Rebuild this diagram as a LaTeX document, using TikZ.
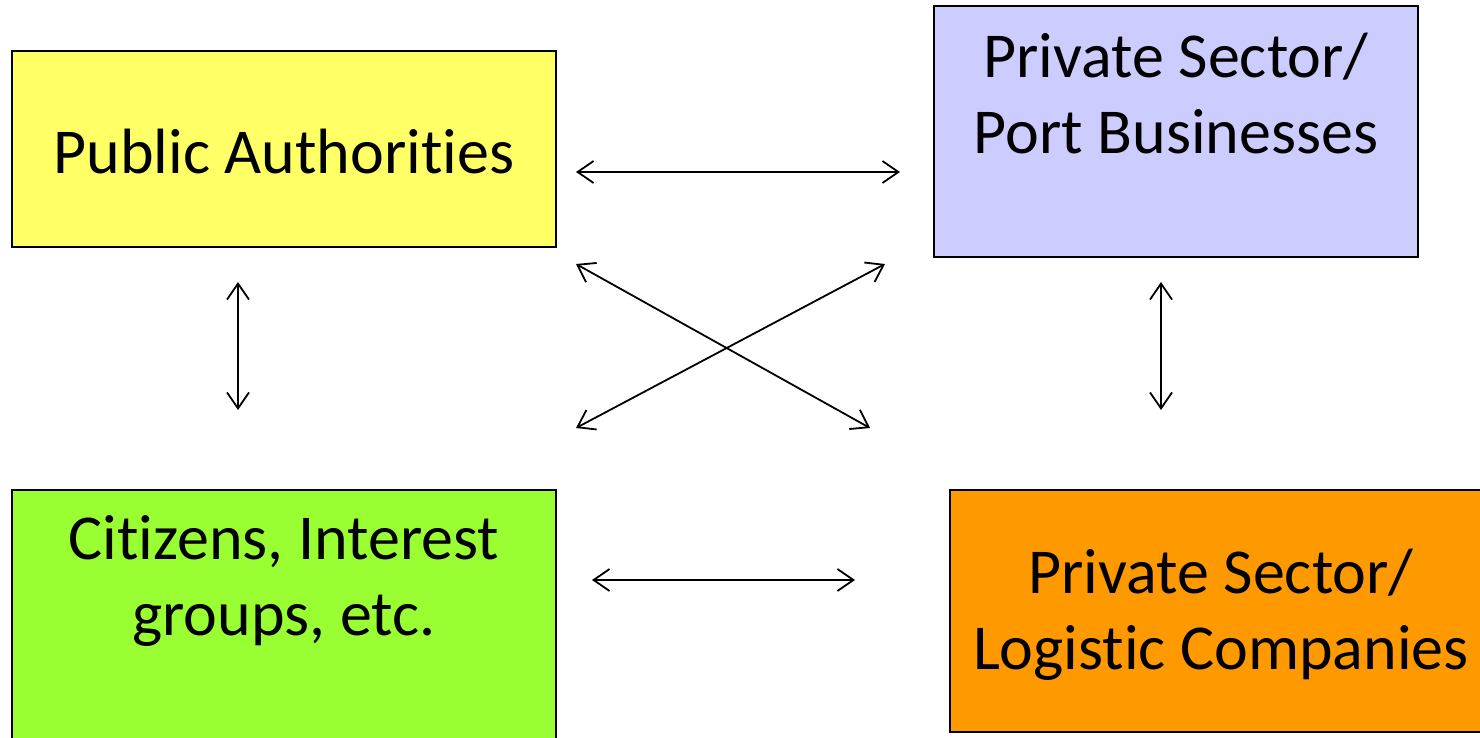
\documentclass[tikz,border=0pt]{standalone}
\usepackage{fontspec}
\setmainfont[Ligatures={NoCommon}]{Carlito}
\usetikzlibrary{arrows.meta}
\definecolor{cyellow}{HTML}{FFFF66}
\definecolor{cblue}{HTML}{CCCCFF}
\definecolor{cgreen}{HTML}{99FF33}
\definecolor{corange}{HTML}{FF9900}
\tikzset{
  box/.style={draw=black, line width=1.6pt},
  lbl/.style={align=center, inner sep=0pt, font=\fontsize{64}{76}\selectfont},
  link/.style={line width=1.8pt, {Straight Barb[length=16pt,width=22pt,line width=1.8pt]}-{Straight Barb[length=16pt,width=22pt,line width=1.8pt]}}
}
\begin{document}
\begin{tikzpicture}[x=1pt,y=-1pt]
\useasboundingbox (0,0) rectangle (1480,738);
\clip (0,0) rectangle (1480,738);
\fill[white] (0,0) rectangle (1480,738);
% boxes
\draw[box, fill=cyellow] (12,51) rectangle (556,247) coordinate (pa);
\draw[box, fill=cblue] (934,6) rectangle (1418,257) coordinate (pb);
\draw[box, fill=cgreen] (12,490) rectangle (556,760) coordinate (cg);
\draw[box, fill=corange] (950,490) rectangle (1500,732) coordinate (lc);
% texts
\node[lbl] (tpa) at (284,152) {Public Authorities};
\node[lbl] (tpb) at (1176,94) {Private Sector/\\Port Businesses};
\node[lbl] (tcg) at (284,581) {Citizens, Interest\\groups, etc.};
\node[lbl] (tlc) at (1221,615) {Private Sector/\\Logistic Companies};
% connector ends
\coordinate (a1) at (576,172); \coordinate (a2) at (900,172);
\coordinate (b1) at (238,282); \coordinate (b2) at (238,410);
\coordinate (c1) at (1161,282); \coordinate (c2) at (1161,410);
\coordinate (d1) at (576,264); \coordinate (d2) at (870,428);
\coordinate (e1) at (576,428); \coordinate (e2) at (885,264);
\coordinate (f1) at (592,580); \coordinate (f2) at (855,580);
\draw[link] (a1) -- (a2);
\draw[link] (b1) -- (b2);
\draw[link] (c1) -- (c2);
\draw[link] (d1) -- (d2);
\draw[link] (e1) -- (e2);
\draw[link] (f1) -- (f2);
\end{tikzpicture}
\end{document}
